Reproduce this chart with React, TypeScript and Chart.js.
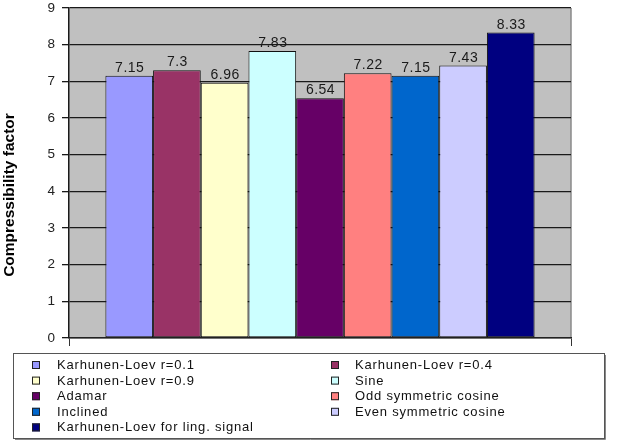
import React, { useEffect, useRef } from "react";
import { Chart, registerables } from "chart.js";

Chart.register(...registerables);

// Compression methods and their compressibility factors
const methods = [
  "Karhunen-Loev r=0.1",
  "Karhunen-Loev r=0.4",
  "Karhunen-Loev r=0.9",
  "Sine",
  "Adamar",
  "Odd symmetric cosine",
  "Inclined",
  "Even symmetric cosine",
  "Karhunen-Loev for ling. signal",
];
const factors = [7.15, 7.3, 6.96, 7.83, 6.54, 7.22, 7.15, 7.43, 8.33];
const valueLabels = ["7.15", "7.3", "6.96", "7.83", "6.54", "7.22", "7.15", "7.43", "8.33"];
const colors = [
  "#9999FF",
  "#993366",
  "#FFFFCC",
  "#CCFFFF",
  "#660066",
  "#FF8080",
  "#0066CC",
  "#CCCCFF",
  "#000080",
];
const yTicks = [0, 1, 2, 3, 4, 5, 6, 7, 8, 9];
const axisTitle = "Compressibility factor";

const FONT = "Arial, 'Liberation Sans', Helvetica, sans-serif";

// Grey plot background with a lighter right edge
const plotBackground = {
  id: "plotBackground",
  beforeDraw(chart: any) {
    const { ctx, chartArea } = chart;
    ctx.save();
    ctx.fillStyle = "#C0C0C0";
    ctx.fillRect(chartArea.left, chartArea.top, chartArea.right - chartArea.left, chartArea.bottom - chartArea.top);
    ctx.strokeStyle = "#8a8a8a";
    ctx.lineWidth = 1.5;
    ctx.beginPath();
    ctx.moveTo(chartArea.right, chartArea.top);
    ctx.lineTo(chartArea.right, chartArea.bottom);
    ctx.stroke();
    ctx.restore();
  },
};

// Value above each bar
const barValues = {
  id: "barValues",
  afterDatasetsDraw(chart: any) {
    const { ctx } = chart;
    ctx.save();
    ctx.font = `14px ${FONT}`;
    (ctx as any).letterSpacing = "0.5px";
    ctx.fillStyle = "#1a1a1a";
    ctx.textAlign = "center";
    ctx.textBaseline = "alphabetic";
    chart.data.datasets.forEach((ds: any, i: number) => {
      const bar = chart.getDatasetMeta(i).data[0];
      if (!bar) return;
      ctx.fillText(valueLabels[i], bar.x + 0.5, bar.y - 4);
    });
    ctx.restore();
  },
};

// Rotated y-axis title
const yTitle = {
  id: "yTitle",
  afterDraw(chart: any) {
    const { ctx } = chart;
    ctx.save();
    ctx.translate(13.5, 195);
    ctx.rotate(-Math.PI / 2);
    ctx.font = `bold 15.5px ${FONT}`;
    ctx.fillStyle = "#000";
    ctx.textAlign = "center";
    ctx.textBaseline = "alphabetic";
    ctx.fillText(axisTitle, 0, 0);
    ctx.restore();
  },
};

// Two-column boxed legend under the plot
const boxLegend = {
  id: "boxLegend",
  afterDraw(chart: any) {
    const { ctx } = chart;
    const x0 = 13.5, y0 = 353.5, w = 591, h = 85;
    ctx.save();
    ctx.fillStyle = "#fff";
    ctx.fillRect(x0, y0, w, h);
    ctx.strokeStyle = "#555";
    ctx.lineWidth = 1;
    ctx.strokeRect(x0, y0, w, h);
    ctx.strokeStyle = "#888";
    ctx.beginPath();
    ctx.moveTo(x0 + 1.5, y0 + h + 1);
    ctx.lineTo(x0 + w + 1, y0 + h + 1);
    ctx.lineTo(x0 + w + 1, y0 + 1.5);
    ctx.stroke();

    ctx.font = `13px ${FONT}`;
    (ctx as any).letterSpacing = "0.8px";
    ctx.textBaseline = "middle";
    ctx.textAlign = "left";
    chart.data.datasets.forEach((ds: any, i: number) => {
      const col = i % 2;
      const row = Math.floor(i / 2);
      const sx = col === 0 ? 32 : 331;
      const tx = col === 0 ? 57 : 355;
      const cy = 365 + row * 15.6;
      ctx.fillStyle = ds.backgroundColor;
      ctx.fillRect(sx, cy - 4, 8, 8);
      ctx.strokeStyle = "#222";
      ctx.lineWidth = 1;
      ctx.strokeRect(sx + 0.5, cy - 3.5, 7, 7);
      ctx.fillStyle = "#111";
      ctx.fillText(ds.label, tx, cy + 0.5);
    });
    ctx.restore();
  },
};

export default function App() {
  const canvasRef = useRef<HTMLCanvasElement | null>(null);

  useEffect(() => {
    const canvas = canvasRef.current;
    if (!canvas) return;
    const chart = new Chart(canvas, {
      type: "bar",
      data: {
        labels: [""],
        datasets: methods.map((m, i) => ({
          label: m,
          data: [factors[i]],
          backgroundColor: colors[i],
          borderColor: "#111",
          borderWidth: 1,
          borderSkipped: false,
          categoryPercentage: 0.855,
          barPercentage: 1,
        })),
      },
      options: {
        responsive: false,
        animation: false,
        devicePixelRatio: 1,
        layout: { padding: { left: 0, right: 47, top: 8, bottom: 96 } },
        plugins: {
          legend: { display: false },
          tooltip: { enabled: false },
          title: { display: false },
        },
        scales: {
          x: {
            type: "category",
            ticks: { display: false },
            grid: {
              offset: true,
              drawOnChartArea: false,
              drawTicks: true,
              tickLength: 8,
              color: "#333",
              lineWidth: 1,
            },
            border: { display: true, color: "#222", width: 1.5 },
            afterFit: (scale: any) => {
              scale.height = 8;
              scale.paddingLeft = 0;
              scale.paddingRight = 0;
            },
          },
          y: {
            min: 0,
            max: 9,
            afterBuildTicks: (scale: any) => {
              scale.ticks = yTicks.map((v) => ({ value: v }));
            },
            ticks: {
              color: "#222",
              padding: 7,
              font: { family: FONT, size: 13.5 },
            },
            grid: {
              color: "#1a1a1a",
              lineWidth: 1.3,
              tickLength: 7,
              drawTicks: true,
            },
            border: { display: true, color: "#1a1a1a", width: 1.5 },
            afterFit: (scale: any) => {
              scale.width = 69;
              scale.paddingTop = 0;
              scale.paddingBottom = 0;
            },
          },
        },
      },
      plugins: [plotBackground, barValues, yTitle, boxLegend],
    });
    return () => chart.destroy();
  }, []);

  return (
    <div style={{ position: "fixed", left: 0, top: 0, width: 618, height: 442, background: "#fff" }}>
      <canvas ref={canvasRef} width={618} height={442} style={{ display: "block" }} />
    </div>
  );
}
